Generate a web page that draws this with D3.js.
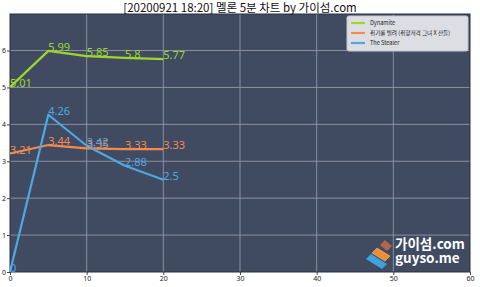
<!DOCTYPE html>
<html>
<head>
<meta charset="utf-8">
<script src="https://cdn.jsdelivr.net/npm/d3@7"></script>
<style>
	body { margin: 0; background: #fff; }
	text { font-family: "Noto Sans CJK KR", "Noto Sans", sans-serif; }
</style>
</head>
<body>
<svg id="chart" width="480" height="287"></svg>
<script>
/* global d3 */

// data
let minutes = [0, 5, 10, 15, 20],
	seriesNames = ['Dynamite', '취기를 빌려 (취향저격 그녀 X 산들)', 'The Stealer'],
	dynamite = [5.01, 5.99, 5.85, 5.8, 5.77],
	chwigi = [3.21, 3.44, 3.35, 3.33, 3.33],
	stealer = [0, 4.26, 3.42, 2.88, 2.5],
	xTicks = [0, 10, 20, 30, 40, 50, 60],
	yTicks = [0, 1, 2, 3, 4, 5, 6],
	colors = ['#9fd62a', '#f38a4e', '#4ea9e3'];

let svg = d3.select('#chart'),
	margin = {top: 14, right: 10, bottom: 15, left: 10},
	width = 480 - margin.left - margin.right,
	height = 287 - margin.top - margin.bottom,
	x = d3.scaleLinear().domain([0, 60]).range([0, width]),
	y = d3.scaleLinear().domain([0, 6.99]).range([height, 0]),
	g = svg.append('g').attr('transform', 'translate(' + margin.left + ',' + margin.top + ')'),
	allSeries = [dynamite, chwigi, stealer];

// title
svg.append('text')
	.attr('x', 240)
	.attr('y', 11.5)
	.attr('text-anchor', 'middle')
	.style('font-size', '11.5px')
	.attr('fill', '#111')
	.text('[20200921 18:20] 멜론 5분 차트 by 가이섬.com');

g.append('rect')
	.attr('width', width)
	.attr('height', height)
	.attr('fill', '#404b62');

// grid
g.selectAll('.gx')
	.data(xTicks.slice(1, -1))
	.enter().append('line')
		.attr('x1', d => x(d)).attr('x2', d => x(d))
		.attr('y1', 0).attr('y2', height)
		.attr('stroke', '#8a909c').attr('stroke-width', 1);

g.selectAll('.gy')
	.data(yTicks.slice(1))
	.enter().append('line')
		.attr('x1', 0).attr('x2', width)
		.attr('y1', d => y(d)).attr('y2', d => y(d))
		.attr('stroke', '#8a909c').attr('stroke-width', 1);

// axes
let xAxis = g.append('g')
	.attr('transform', 'translate(0,' + height + ')')
	.call(d3.axisBottom(x).tickValues(xTicks).tickFormat(d3.format('d')).tickSize(3).tickPadding(1));

let yAxis = g.append('g')
	.call(d3.axisLeft(y).tickValues(yTicks).tickFormat(d3.format('d')).tickSize(3).tickPadding(1));

[xAxis, yAxis].forEach(function(a) {
	a.select('.domain').remove();
	a.selectAll('text').style('font-size', '7px').attr('fill', '#222')
		.style('font-family', '"Noto Sans", sans-serif');
	a.selectAll('line').attr('stroke', '#444');
});

g.append('rect')
	.attr('width', width)
	.attr('height', height)
	.attr('fill', 'none')
	.attr('stroke', '#2b3142')
	.attr('stroke-width', 1);

// lines and value labels
let line = d3.line()
	.x(function(d, i) { return x(minutes[i]); })
	.y(function(d) { return y(d); });

allSeries.forEach(function(vals, s) {
	g.append('path')
		.datum(vals)
		.attr('fill', 'none')
		.attr('stroke', colors[s])
		.attr('stroke-width', 2.2)
		.attr('stroke-linejoin', 'round')
		.attr('d', line);
});

allSeries.forEach(function(vals, s) {
	g.selectAll('.lab' + s)
		.data(vals)
		.enter().append('text')
			.attr('x', (d, i) => x(minutes[i]))
			.attr('y', d => y(d))
			.attr('fill', colors[s])
			.style('font-size', '11px')
			.style('font-family', '"Noto Sans", sans-serif')
			.text(d => String(d));
});

// legend
let legend = g.append('g').attr('transform', 'translate(' + (width - 123) + ',2)');

legend.append('rect')
	.attr('width', 121)
	.attr('height', 35)
	.attr('rx', 2)
	.attr('fill', '#dcdee3')
	.attr('stroke', '#c4c7ce');

seriesNames.forEach(function(name, s) {
	let row = legend.append('g').attr('transform', 'translate(0,' + (7 + s * 10) + ')');
	row.append('line')
		.attr('x1', 4).attr('x2', 18)
		.attr('stroke', colors[s]).attr('stroke-width', 2.2);
	row.append('text')
		.attr('x', 23)
		.attr('y', 2)
		.style('font-size', '5.6px')
		.attr('fill', '#222')
		.text(name);
});

// watermark
let mark = svg.append('g').attr('transform', 'translate(366,236)');
mark.append('polygon').attr('points', '14,9 19,4 26,10 21,15').attr('fill', '#b5644c');
mark.append('polygon').attr('points', '6,17 11,12 24,20 19,25').attr('fill', '#f28a3c').attr('stroke', '#f5c842').attr('stroke-width', 0.6);
mark.append('polygon').attr('points', '0,23 5,18 21,28 16,33').attr('fill', '#3ea3dc');

mark.append('text')
	.attr('x', 29).attr('y', 12.5)
	.attr('fill', '#fff')
	.style('font-size', '13.5px')
	.style('font-weight', 'bold')
	.text('가이섬.com');
mark.append('text')
	.attr('x', 29).attr('y', 27)
	.attr('fill', '#fff')
	.style('font-size', '13.5px')
	.style('font-weight', 'bold')
	.text('guyso.me');
</script>
</body>
</html>
